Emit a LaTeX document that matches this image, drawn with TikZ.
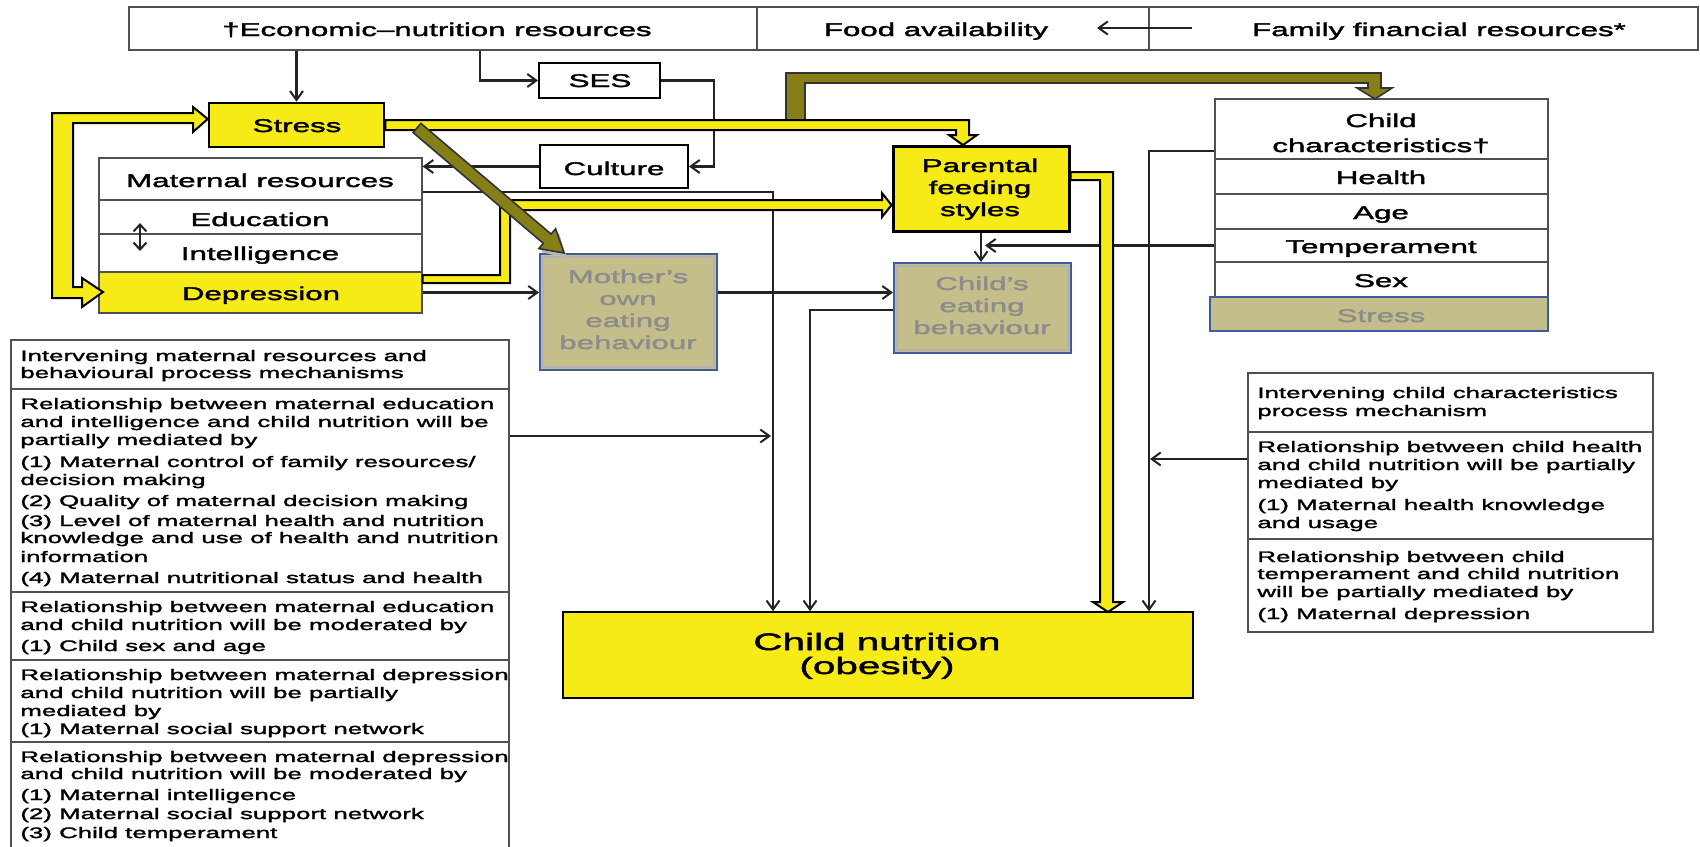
\documentclass[tikz,border=0pt]{standalone}
\usepackage{fontspec}
\setmainfont{Liberation Sans}[FakeStretch=1.7,FakeBold=2.0]
\usetikzlibrary{arrows.meta,fit,calc}
\definecolor{yel}{RGB}{246,235,22}
\definecolor{oli}{RGB}{134,127,24}
\definecolor{khaki}{RGB}{196,190,138}
\definecolor{bblue}{RGB}{62,92,155}
\definecolor{gtext}{RGB}{140,140,140}
\definecolor{linec}{RGB}{35,35,35}
\definecolor{thinc}{RGB}{80,80,80}
\newcommand{\fmain}{\fontsize{9.2}{11}\selectfont}
\newcommand{\fsmall}{\fontsize{7.6}{9}\selectfont}
\newcommand{\fbig}{\fontsize{11.9}{14}\selectfont}
\begin{document}
\begin{tikzpicture}[x=0.5pt,y=-0.5pt,
  cell/.style={draw=thinc, line width=0.6pt, fill=white, inner sep=0pt},
  ybox/.style={draw=black, line width=1.3pt, fill=yel, inner sep=0pt},
  kbox/.style={draw=bblue, line width=1pt, fill=khaki, inner sep=0pt},
  wbox/.style={draw=black, line width=1pt, fill=white, inner sep=0pt},
  lab/.style={font=\fmain, text=black, inner sep=0pt, anchor=base},
  glab/.style={lab, text=gtext},
  small/.style={font=\fsmall, text=black, inner sep=0pt, anchor=base west},
  conn/.style={draw=linec, line width=1.15pt, -{Straight Barb[length=4.5pt,width=6.5pt,line width=1pt]}},
  bigarrow/.style={draw=black, line width=1pt, fill=yel, line join=miter},
  oarrow/.style={draw=black!80, line width=0.8pt, fill=oli, line join=miter}]
\useasboundingbox (0,0) rectangle (1700,846);
\fill[white] (0,0) rectangle (1700,846);

% ---- top bar
\node (econ) [cell, fit={(129,7) (757,50)}] {};
\node (food) [cell, fit={(757,7) (1149,50)}] {};
\node (fam)  [cell, fit={(1149,7) (1698,50)}] {};
\node (t1) [lab] at (437,36) {†Economic–nutrition resources};
\node (t2) [lab] at (936,36) {Food availability};
\node (t3) [lab] at (1439,36) {Family financial resources*};

% ---- left column
\node (stress) [ybox, fit={(209,103) (384,147)}] {};
\node (t4) [lab] at (297,132) {Stress};
\node (ses) [wbox, fit={(539,63) (660,98)}] {};
\node (t5) [lab] at (600,87) {SES};
\node (culture) [wbox, fit={(540,145) (688,188)}] {};
\node (t6) [lab] at (614,175) {Culture};

\node (matres) [cell, fit={(99,158) (422,200)}] {};
\node (edu)    [cell, fit={(99,200) (422,234)}] {};
\node (intel)  [cell, fit={(99,234) (422,272)}] {};
\node (dep)    [cell, fill=yel, fit={(99,272) (422,313)}] {};
\node (t7) [lab] at (260,187) {Maternal resources};
\node (t8) [lab] at (260,226) {Education};
\node (t9) [lab] at (260,260) {Intelligence};
\node (t10) [lab] at (261,300) {Depression};
\coordinate (dA) at (140,223);
\coordinate (dB) at (140,251);
\draw[line width=1.1pt, draw=linec, {Straight Barb[length=3.5pt,width=6.5pt,line width=1pt]}-{Straight Barb[length=3.5pt,width=6.5pt,line width=1pt]}] (dA) -- (dB);

\node (mother) [kbox, fit={(540,254) (717,370)}] {};
\draw[gray!60, line width=0.9pt] ($(mother.north west)+(4,4)$) rectangle ($(mother.south east)+(-4,-4)$);
\node (m1) [glab] at (628,283) {Mother’s};
\node (m2) [glab] at (628,305) {own};
\node (m3) [glab] at (628,327) {eating};
\node (m4) [glab] at (628,349) {behaviour};

% ---- middle
\node (parental) [ybox, line width=1.5pt, fit={(893,146) (1069,231)}] {};
\node (p1) [lab] at (980,172) {Parental};
\node (p2) [lab] at (980,194) {feeding};
\node (p3) [lab] at (980,216) {styles};

\node (childeat) [kbox, fit={(894,263) (1071,353)}] {};
\draw[gray!60, line width=0.9pt] ($(childeat.north west)+(4,4)$) rectangle ($(childeat.south east)+(-4,-4)$);
\node (c1) [glab] at (982,290) {Child’s};
\node (c2) [glab] at (982,312) {eating};
\node (c3) [glab] at (982,334) {behaviour};

\node (cn) [draw=black, line width=0.8pt, fill=yel, inner sep=0pt, fit={(563,612) (1193,698)}] {};
\node (cn1) [lab, font=\fbig] at (877,650) {Child nutrition};
\node (cn2) [lab, font=\fbig] at (877,674) {(obesity)};

% ---- child characteristics
\node (cc)     [cell, fit={(1215,99) (1548,159)}] {};
\node (health) [cell, fit={(1215,159) (1548,194)}] {};
\node (age)    [cell, fit={(1215,194) (1548,229)}] {};
\node (temp)   [cell, fit={(1215,229) (1548,262)}] {};
\node (sex)    [cell, fit={(1215,262) (1548,297)}] {};
\node (cstress)[kbox, fit={(1210,297) (1548,331)}] {};
\node (k1) [lab] at (1381,127) {Child};
\node (k2) [lab] at (1381,152) {characteristics†};
\node (k3) [lab] at (1381,184) {Health};
\node (k4) [lab] at (1381,219) {Age};
\node (k5) [lab] at (1381,253) {Temperament};
\node (k6) [lab] at (1381,287) {Sex};
\node (k7) [glab] at (1381,322) {Stress};

% ---- left text box
\node (ls1) [cell, fit={(11,340) (509,389)}] {};
\node (ls2) [cell, fit={(11,389) (509,592)}] {};
\node (ls3) [cell, fit={(11,592) (509,660)}] {};
\node (ls4) [cell, fit={(11,660) (509,742)}] {};
\node (ls5) [cell, fit={(11,742) (509,870)}] {};
\foreach \yy/\tt [count=\k] in {
 361/{Intervening maternal resources and},
 378/{behavioural process mechanisms},
 409/{Relationship between maternal education},
 427/{and intelligence and child nutrition will be},
 445/{partially mediated by},
 467/{(1) Maternal control of family resources/},
 485/{decision making},
 506/{(2) Quality of maternal decision making},
 526/{(3) Level of maternal health and nutrition},
 543/{knowledge and use of health and nutrition},
 562/{information},
 583/{(4) Maternal nutritional status and health},
 612/{Relationship between maternal education},
 630/{and child nutrition will be moderated by},
 651/{(1) Child sex and age},
 680/{Relationship between maternal depression},
 698/{and child nutrition will be partially},
 716/{mediated by},
 734/{(1) Maternal social support network},
 762/{Relationship between maternal depression},
 779/{and child nutrition will be moderated by},
 800/{(1) Maternal intelligence},
 819/{(2) Maternal social support network},
 838/{(3) Child temperament}}
 {\node (L\k) [small] at (20,\yy) {\tt};}

% ---- right text box
\node (rs1) [cell, fit={(1248,373) (1653,432)}] {};
\node (rs2) [cell, fit={(1248,432) (1653,539)}] {};
\node (rs3) [cell, fit={(1248,539) (1653,632)}] {};
\foreach \yy/\tt [count=\k] in {
 398/{Intervening child characteristics},
 416/{process mechanism},
 452/{Relationship between child health},
 470/{and child nutrition will be partially},
 488/{mediated by},
 510/{(1) Maternal health knowledge},
 528/{and usage},
 562/{Relationship between child},
 579/{temperament and child nutrition},
 597/{will be partially mediated by},
 619/{(1) Maternal depression}}
 {\node (R\k) [small] at (1257,\yy) {\tt};}

% ---- thin connectors
\coordinate (bx) at (480,0);
\coordinate (cx) at (714,120);
\coordinate (ex) at (773,192);
\coordinate (fx) at (771,436);
\coordinate (ix) at (810,310);
\coordinate (kx) at (985,0);
\coordinate (lx) at (1149,151);
\coordinate (mx) at (1150,459);
\coordinate (nA) at (1192,28);
\coordinate (nB) at (1097,28);
\draw[conn] (econ.south -| stress.north) -- (stress.north);
\draw[conn] (econ.south -| bx) |- (ses.west);
\draw[conn] (ses.east) -| (cx) |- (culture.east);
\draw[conn] (culture.west) -- (culture.west -| matres.east);
\draw[conn] (matres.east |- ex) -| (ex |- cn.north);
\draw[conn] (ls2.east |- fx) -- (fx);
\draw[conn] (dep.east) -- (dep.east -| mother.west);
\draw[conn] (mother.east |- dep.east) -- (dep.east -| childeat.west);
\draw[conn] (childeat.west |- ix) -| (ix |- cn.north);
\draw[conn] (parental.south) -- (parental.south |- childeat.north);
\draw[conn] (temp.west) -- (temp.west -| kx);
\draw[conn] (cc.west |- lx) -| (lx |- cn.north);
\draw[conn] (rs2.west |- mx) -- (mx);
\draw[conn] (nA) -- (nB);

% ---- olive top arrow
\draw[oarrow] (786,120) -- (786,73) -- (1381,73) -- (1381,88) -- (1392,88) -- (1375,99) -- (1357,88) -- (1368,88) -- (1368,83) -- (805,83) -- (805,120) -- cycle;

% ---- yellow block arrows
\draw[bigarrow] (52,113) -- (193,113) -- (193,107) -- (stress.west |- 0,119) -- (193,132) -- (193,123) -- (73,123) -- (73,287) -- (82,287) -- (82,278) -- (103,292) -- (82,307) -- (82,298) -- (52,298) -- cycle;
\draw[bigarrow] (stress.east |- 0,120) -- (969,120) -- (969,135) -- (977,135) -- (963,145) -- (949,135) -- (956,135) -- (956,130) -- (stress.east |- 0,130) -- cycle;
\draw[bigarrow] (dep.east |- 0,275) -- (500,275) -- (500,200) -- (882,200) -- (882,193) -- (parental.west |- 0,205) -- (882,217) -- (882,210) -- (510,210) -- (510,283) -- (dep.east |- 0,283) -- cycle;
\draw[bigarrow] (parental.east |- 0,172) -- (1113,172) -- (1113,602) -- (1123,602) -- (1108,612) -- (1093,602) -- (1100,602) -- (1100,180) -- (parental.east |- 0,180) -- cycle;

% ---- olive diagonal arrow (stress -> mother's eating)
\fill[gray!55] (541,252) -- (559,233) -- (567,258) -- cycle;
\draw[oarrow] (413.1,132.6) -- (543.3,243.3) -- (538.8,248.6) -- (564,253) -- (555.6,228.8) -- (551.1,234.1) -- (420.9,123.4) -- cycle;
\end{tikzpicture}
\end{document}
